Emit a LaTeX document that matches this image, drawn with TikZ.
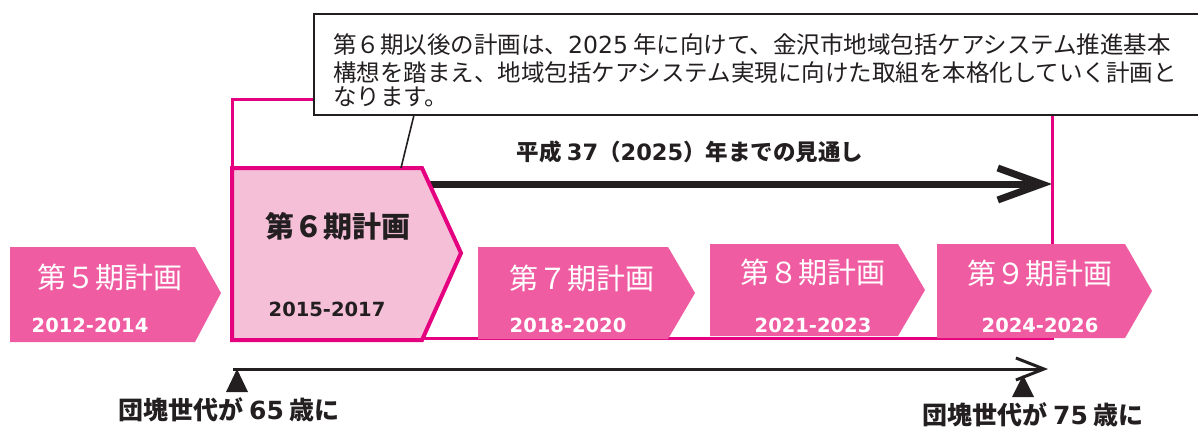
\documentclass[tikz,border=0pt]{standalone}
\usepackage{fontspec}
\setmainfont{Noto Sans CJK JP}
\newfontfamily\jp{Noto Sans CJK JP}
\newfontfamily\vd{DejaVu Sans}
\usetikzlibrary{arrows.meta}
\definecolor{mag}{HTML}{E4007F}
\definecolor{boxpink}{HTML}{EF5CA1}
\definecolor{lightpink}{HTML}{F6BFD8}
\definecolor{dark}{HTML}{231F20}
\tikzset{
  planbox/.style={fill=boxpink, draw=none},
  curbox/.style={fill=lightpink, draw=mag, line width=4pt, line join=miter},
  plantitle/.style={text=white, font=\jp\fontsize{29}{32}\selectfont, inner sep=0pt},
  planyear/.style={text=white, font=\vd\bfseries\fontsize{19.5}{22}\selectfont, inner sep=0pt},
  curtitle/.style={text=dark, font=\jp\bfseries\fontsize{29}{32}\selectfont, inner sep=0pt},
  curyear/.style={text=dark, font=\vd\bfseries\fontsize{19.5}{22}\selectfont, inner sep=0pt},
  calltext/.style={text=dark, font=\jp\fontsize{23.5}{27}\selectfont, inner sep=0pt, anchor=base west},
  boldlabel/.style={text=dark, font=\jp\bfseries\fontsize{22.5}{26}\selectfont, inner sep=0pt},
  agelabel/.style={text=dark, font=\jp\bfseries\fontsize{25}{28}\selectfont, inner sep=0pt},
}
\begin{document}
\begin{tikzpicture}[x=1pt,y=-1pt]
\useasboundingbox (0,0) rectangle (1198,431);
% outer magenta frame
\draw[mag, line width=3pt] (232,99) rectangle (1052,338);
% thick outlook arrow
\coordinate (outS) at (425,184);
\coordinate (outE) at (1052,184);
\draw[dark, line width=7pt, -{Straight Barb[length=44pt,width=32pt,line width=7pt]}] (outS) -- (outE);
\node[boldlabel] (outlook) at (690,152) {平成 {\vd 37}（{\vd 2025}）年までの見通し};
% plan boxes
\fill[planbox] (10,247) -- (195,247) -- (221,293) -- (195,342) -- (10,342) -- cycle;
\filldraw[curbox] (232,168) -- (422,168) -- (461,253) -- (422,340) -- (232,340) -- cycle;
\fill[planbox] (478,247) -- (668,247) -- (695,293) -- (668,339) -- (478,339) -- cycle;
\fill[planbox] (710,244) -- (898,244) -- (925,290) -- (898,336) -- (710,336) -- cycle;
\fill[planbox] (937,244) -- (1125,244) -- (1152,291) -- (1125,338) -- (937,338) -- cycle;
\node[plantitle] (p5) at (110,277) {第５期計画};
\node[planyear] (y5) at (90,325) {2012-2014};
\node[curtitle] (p6) at (338,226) {第６期計画};
\node[curyear] (y6) at (327,309) {2015-2017};
\node[plantitle] (p7) at (582,278) {第７期計画};
\node[planyear] (y7) at (568,325) {2018-2020};
\node[plantitle] (p8) at (813,272) {第８期計画};
\node[planyear] (y8) at (813,325) {2021-2023};
\node[plantitle] (p9) at (1040,273) {第９期計画};
\node[planyear] (y9) at (1040,325) {2024-2026};
% callout
\coordinate (ptrA) at (414,115);
\coordinate (ptrB) at (401,168);
\draw[dark, line width=1.6pt] (ptrA) -- (ptrB);
\draw[dark, line width=2.6pt, fill=white] (314,14) rectangle (1210,115);
\node[calltext] (c1) at (333,53) {第６期以後の計画は、{\vd 2025} 年に向けて、金沢市地域包括ケアシステム推進基本};
\node[calltext] (c2) at (333,81) {構想を踏まえ、地域包括ケアシステム実現に向けた取組を本格化していく計画と};
\node[calltext] (c3) at (333,105) {なります。};
% baby boomer timeline
\coordinate (tlS) at (233,369);
\coordinate (tlE) at (1048,369);
\draw[dark, line width=3pt, -{Straight Barb[length=28pt,width=22pt,line width=3pt]}] (tlS) -- (tlE);
\fill[dark] (237,369) -- (248,392) -- (226,392) -- cycle;
\fill[dark] (1023,375) -- (1034,397) -- (1012,397) -- cycle;
\node[agelabel] (a65) at (229,410) {団塊世代が {\vd 65} 歳に};
\node[agelabel] (a75) at (1033,415) {団塊世代が {\vd 75} 歳に};
\end{tikzpicture}
\end{document}
